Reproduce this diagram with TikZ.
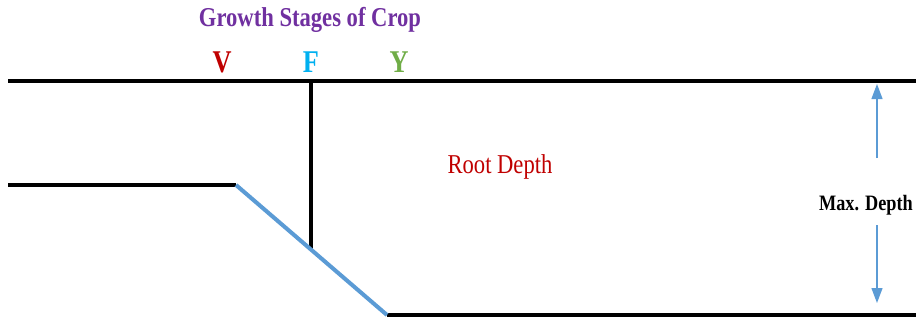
\documentclass[tikz,border=0pt]{standalone}
\usepackage{fontspec}
\setmainfont{Liberation Serif}
\newfontfamily\narrowserif[FakeStretch=0.83]{Liberation Serif}
\usetikzlibrary{arrows.meta,positioning,calc}
\definecolor{stagev}{RGB}{192,0,0}
\definecolor{stagef}{RGB}{0,176,240}
\definecolor{stagey}{RGB}{112,173,71}
\definecolor{titlepurple}{RGB}{112,48,160}
\definecolor{rootblue}{RGB}{91,155,213}
\tikzset{
    soil/.style={line width=2.3pt, black},
    root/.style={line width=2.3pt, rootblue},
    stageline/.style={line width=2pt, black},
    deptharrow/.style={-{Triangle[length=3mm, width=2.2mm]}, line width=0.7pt, rootblue},
    stage/.style={font=\narrowserif\fontsize{18}{20}\selectfont\bfseries, inner sep=0pt}
}

\begin{document}
\begin{tikzpicture}[
    heading/.style={font=\narrowserif\fontsize{15.5}{18}\selectfont\bfseries, text=titlepurple, inner sep=0pt},
    lbl/.style={font=\narrowserif\fontsize{15.5}{18}\selectfont, inner sep=0pt},
    maxlbl/.style={font=\narrowserif\fontsize{12.5}{14}\selectfont\bfseries, inner sep=0pt}
]
    \useasboundingbox (0,0) rectangle (18.32,6.4);

    % Title and stages
    \node[heading] (title) at (6.2, 6.0) {Growth Stages of Crop};
    \node[stage, text=stagev] (V) at (4.44, 5.16) {V};
    \node[stage, text=stagef] (F) at (6.22, 5.16) {F};
    \node[stage, text=stagey] (Y) at (7.98, 5.16) {Y};

    % Soil surface and root zone outline
    \coordinate (topL) at (0.16, 4.78);
    \coordinate (topR) at (18.32, 4.78);
    \coordinate (stepL) at (0.16, 2.70);
    \coordinate (stepR) at (4.72, 2.70);
    \coordinate (botL) at (7.74, 0.10);
    \coordinate (botR) at (18.32, 0.10);
    \coordinate (fTop) at (6.22, 4.78);
    \coordinate (fBot) at ($(stepR)!0.4967!(botL)$);

    \draw[soil] (topL) -- (topR);
    \draw[soil] (stepL) -- (stepR);
    \draw[soil] (botL) -- (botR);
    \draw[stageline] (fTop) -- (fBot);
    \draw[root] (stepR) -- (botL);

    \node[lbl, text=stagev] (RD) at (10.0, 3.06) {Root Depth};

    % Max depth marker
    \node[maxlbl] (MD) at (17.32, 2.30) {Max. Depth};
    \coordinate (mdA) at (17.54, 3.24);
    \coordinate (mdB) at (17.54, 1.90);
    \coordinate (mdTop) at (17.54, 4.72);
    \coordinate (mdBot) at (17.54, 0.34);
    \draw[deptharrow] (mdA) -- (mdTop);
    \draw[deptharrow] (mdB) -- (mdBot);
\end{tikzpicture}
\end{document}
